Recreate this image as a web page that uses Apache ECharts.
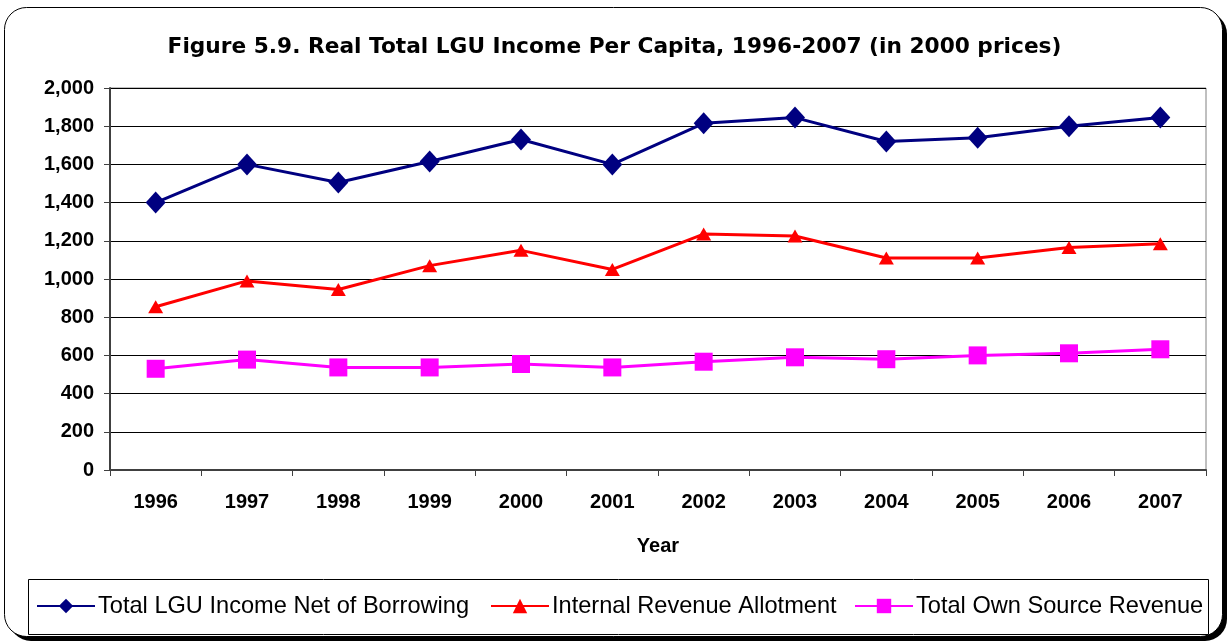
<!DOCTYPE html>
<html><head><meta charset="utf-8">
<script src="https://cdn.jsdelivr.net/npm/echarts@6/dist/echarts.min.js"></script>
<style>html,body{margin:0;padding:0;background:#fff}#c{width:1229px;height:644px}</style>
</head><body><div id="c"></div>
<script>
const years = ['1996','1997','1998','1999','2000','2001','2002','2003','2004','2005','2006','2007'];
const totalIncome = [1400,1600,1505,1615,1730,1600,1815,1845,1720,1740,1800,1845];
const ira = [855,990,945,1070,1150,1050,1235,1225,1110,1110,1165,1185];
const ownSource = [530,578,537,537,555,537,567,590,580,600,611,632];
const names = ['Total LGU Income Net of Borrowing','Internal Revenue Allotment','Total Own Source Revenue'];
const font = 'Liberation Sans, Arial, sans-serif';
const chart = echarts.init(document.getElementById('c'));
const legendBase = {
  top: 594, itemWidth: 58, itemHeight: 18, padding: 0, itemGap: 0,
  textStyle: {fontFamily: font, fontSize: 23.6, color: '#000', padding: [0,0,0,-2]}
};
chart.setOption({
  animation: false,
  backgroundColor: 'transparent',
  title: {
    text: 'Figure 5.9. Real Total LGU Income Per Capita, 1996-2007 (in 2000 prices)',
    left: 'center', top: 31,
    textStyle: {fontFamily: 'DejaVu Sans, sans-serif', fontSize: 21.7, fontWeight: 'bold', color: '#000'}
  },
  graphic: [
    {type: 'rect', z: -11, shape: {x: 9, y: 12, width: 1218, height: 629, r: 22},
     style: {fill: '#000'}},
    {type: 'rect', z: -10, shape: {x: 4.5, y: 7.5, width: 1218, height: 629, r: 22},
     style: {fill: '#fff', stroke: '#000', lineWidth: 1}},
    {type: 'rect', z: -5, shape: {x: 28.5, y: 579.5, width: 1180, height: 55},
     style: {fill: '#fff', stroke: '#000', lineWidth: 1}}
  ],
  legend: [
    Object.assign({}, legendBase, {left: 36, data: [names[0]]}),
    Object.assign({}, legendBase, {left: 490, data: [names[1]]}),
    Object.assign({}, legendBase, {left: 854, data: [names[2]]})
  ],
  grid: {left: 110, right: 23, top: 88, bottom: 174, show: true, borderColor: '#808080', borderWidth: 1, backgroundColor: 'transparent'},
  xAxis: {
    type: 'category', data: years, boundaryGap: true,
    name: 'Year', nameLocation: 'middle', nameGap: 66,
    nameTextStyle: {fontFamily: font, fontSize: 20, fontWeight: 'bold', color: '#000'},
    axisLine: {lineStyle: {color: '#404040', width: 2}},
    axisTick: {show: true, alignWithLabel: false, length: 6, lineStyle: {color: '#404040', width: 1}},
    axisLabel: {fontFamily: font, fontSize: 20, fontWeight: 'bold', color: '#000', margin: 22}
  },
  yAxis: {
    type: 'value', min: 0, max: 2000, interval: 200,
    axisLine: {show: true, lineStyle: {color: '#404040', width: 2}},
    axisTick: {show: true, length: 6, lineStyle: {color: '#404040'}},
    splitLine: {lineStyle: {color: '#000', width: 1}},
    axisLabel: {fontFamily: font, fontSize: 20, fontWeight: 'bold', color: '#000', margin: 16,
      formatter: v => v.toLocaleString('en-US')}
  },
  series: [
    {name: names[0], type: 'line', data: totalIncome, symbol: 'diamond', symbolSize: [20, 22],
     lineStyle: {color: '#000080', width: 3}, itemStyle: {color: '#000080'}},
    {name: names[1], type: 'line', data: ira, symbol: 'triangle', symbolSize: [15, 13],
     lineStyle: {color: '#ff0000', width: 3}, itemStyle: {color: '#ff0000'}},
    {name: names[2], type: 'line', data: ownSource, symbol: 'rect', symbolSize: 18,
     lineStyle: {color: '#ff00ff', width: 3}, itemStyle: {color: '#ff00ff'}}
  ]
});
</script></body></html>
